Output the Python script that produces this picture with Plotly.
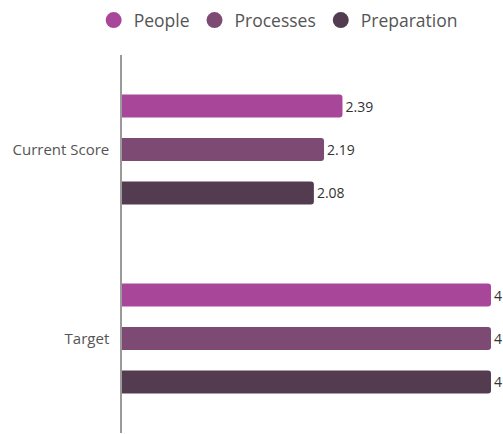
import plotly.graph_objects as go

categories = ["Current Score", "Target"]
series_names = ["People", "Processes", "Preparation"]
people = [2.39, 4]
processes = [2.19, 4]
preparation = [2.08, 4]
colors = ["#A8479A", "#7D4A74", "#543C50"]

values = [people, processes, preparation]
font_family = "'Open Sans', sans-serif"

fig = go.Figure()
for name, vals, col in zip(series_names, values, colors):
    fig.add_trace(go.Bar(
        y=categories, x=vals, orientation="h", name=name,
        marker=dict(color=col, cornerradius=3, line=dict(width=0)),
        text=[f"{v:g}" for v in vals], textposition="outside",
        textfont=dict(color="#333333", size=14, family=font_family),
        cliponaxis=False, showlegend=False,
    ))
    # round legend markers
    fig.add_trace(go.Scatter(
        x=[None], y=[None], mode="markers", name=name,
        marker=dict(color=col, size=18, symbol="circle"),
        showlegend=True,
    ))

fig.update_layout(
    width=503, height=434,
    margin=dict(l=122, r=12, t=55, b=1),
    paper_bgcolor="white", plot_bgcolor="white",
    barmode="group", bargap=0.31, bargroupgap=0.47,
    font=dict(family=font_family, color="#555555", size=15),
    legend=dict(orientation="h", x=0.553, xanchor="center", xref="container",
                y=0.995, yanchor="top", yref="container",
                font=dict(size=17.5, color="#555555"),
                itemwidth=30, tracegroupgap=0),
    xaxis=dict(range=[0, 4], visible=False, showgrid=False, zeroline=False),
    yaxis=dict(autorange="reversed", showline=True, linecolor="#9a9a9a", linewidth=1.5,
               showgrid=False, ticks="", ticklabelstandoff=8,
               tickfont=dict(size=15, color="#555555")),
)

fig.write_html("out.html")
